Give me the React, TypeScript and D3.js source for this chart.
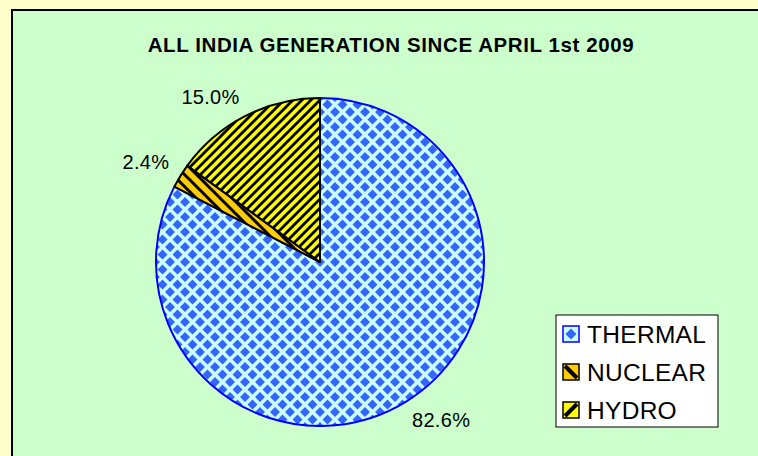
import React from 'react';
import * as d3 from 'd3';

const categories = ['THERMAL', 'NUCLEAR', 'HYDRO'];
const shares = [82.6, 2.4, 15.0];
const fills = ['url(#thermalPat)', 'url(#nuclearPat)', 'url(#hydroPat)'];
const strokes = ['#0000FF', '#000000', '#000000'];

const W = 758;
const H = 456;
const cx = 320;
const cy = 262;
const radius = 164;
const labelRadius = 177;

const font = '"Liberation Sans", Arial, sans-serif';

const App = () => {
  const arcs = d3.pie<number>().sort(null).value(d => d)(shares);
  const arcGen = d3.arc<d3.PieArcDatum<number>>().innerRadius(0).outerRadius(radius);

  // legend glyphs for each series
  const legendMarker = (i: number, x: number, y: number) => {
    const s = 16;
    if (i === 0) {
      return (
        <g>
          <rect x={x} y={y} width={s} height={s} fill="#CCFFFF" stroke="#0000FF" strokeWidth={1.5} />
          <path d={`M${x + s / 2},${y + 2.5} L${x + s - 2.5},${y + s / 2} L${x + s / 2},${y + s - 2.5} L${x + 2.5},${y + s / 2} Z`} fill="#3366FF" />
        </g>
      );
    }
    const color = i === 1 ? '#FFCC00' : '#FFFF00';
    const line = i === 1
      ? `M${x + 2},${y + 2} L${x + s - 2},${y + s - 2}`
      : `M${x + 2},${y + s - 2} L${x + s - 2},${y + 2}`;
    return (
      <g>
        <rect x={x} y={y} width={s} height={s} fill={color} stroke="#000" strokeWidth={1.5} />
        <path d={line} stroke="#000" strokeWidth={4} />
      </g>
    );
  };

  // diamond lattice for the thermal fill
  const P = 15;
  const h = 5;
  const diamond = (x: number, y: number) => `M${x},${y - h} L${x + h},${y} L${x},${y + h} L${x - h},${y} Z`;
  const thermalDiamonds = [[0, 0], [P, 0], [0, P], [P, P], [P / 2, P / 2]].map(([x, y]) => diamond(x, y)).join(' ');

  return (
    <svg width={W} height={H} style={{ position: 'absolute', left: 0, top: 0, display: 'block' }}>
      <defs>
        <pattern id="thermalPat" patternUnits="userSpaceOnUse" width={P} height={P}>
          <rect width={P} height={P} fill="#CCFFFF" />
          <path d={thermalDiamonds} fill="#3366FF" />
        </pattern>
        <pattern id="hydroPat" patternUnits="userSpaceOnUse" width={9} height={9}>
          <rect width={9} height={9} fill="#FFFF00" />
          <path d="M-2,2 L2,-2 M0,9 L9,0 M7,11 L11,7" stroke="#000" strokeWidth={2.8} />
        </pattern>
        <pattern id="nuclearPat" patternUnits="userSpaceOnUse" width={12} height={12}>
          <rect width={12} height={12} fill="#FFCC00" />
          <path d="M-3,9 L3,15 M0,0 L12,12 M9,-3 L15,3" stroke="#000" strokeWidth={3} />
        </pattern>
      </defs>

      <rect x={0} y={0} width={W} height={H} fill="#FFFFCC" />
      <rect x={12} y={10} width={W} height={H} fill="#CCFFCC" stroke="#000" strokeWidth={2} />

      <text
        x={391}
        y={52}
        textAnchor="middle"
        fontFamily={font}
        fontWeight="bold"
        fontSize={20.5}
        letterSpacing={0.6}
        fill="#000"
      >
        ALL INDIA GENERATION SINCE APRIL 1st 2009
      </text>

      <g transform={`translate(${cx},${cy})`}>
        {arcs.map((a, i) => (
          <path key={categories[i]} d={arcGen(a) || ''} fill={fills[i]} stroke={strokes[i]} strokeWidth={2} strokeLinejoin="round" />
        ))}
      </g>

      {arcs.map((a, i) => {
        const mid = (a.startAngle + a.endAngle) / 2;
        const px = cx + labelRadius * Math.sin(mid);
        const py = cy - labelRadius * Math.cos(mid);
        const anchor = Math.sin(mid) >= 0 ? 'start' : 'end';
        const by = Math.cos(mid) > 0 ? py : py + 14;
        return (
          <text
            key={categories[i] + '-lbl'}
            x={px}
            y={by}
            textAnchor={anchor}
            fontFamily={font}
            fontSize={20}
            letterSpacing={0.3}
            fill="#000"
          >
            {shares[i].toFixed(1) + '%'}
          </text>
        );
      })}

      <rect x={556} y={315} width={162} height={112} fill="#FFFFFF" stroke="#000" strokeWidth={1} />
      {categories.map((c, i) => (
        <g key={c + '-leg'}>
          {legendMarker(i, 563, 326 + i * 38)}
          <text
            x={587}
            y={343 + i * 38}
            fontFamily={font}
            fontSize={24.5}
            letterSpacing={0.3}
            fill="#000"
          >
            {c}
          </text>
        </g>
      ))}
    </svg>
  );
};

export default App;
